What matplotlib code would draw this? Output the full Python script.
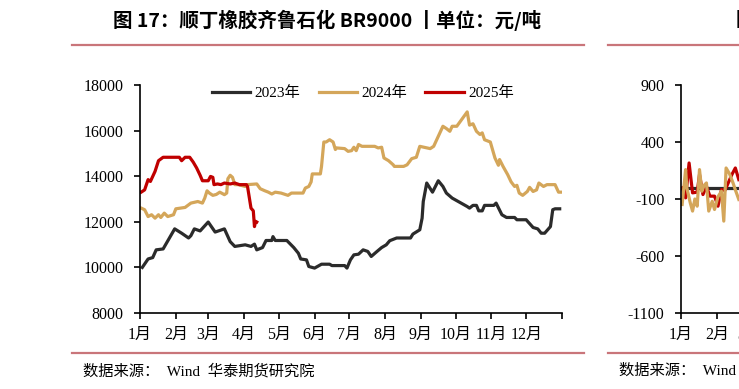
import matplotlib
matplotlib.use("Agg")
import matplotlib.pyplot as plt
from matplotlib.lines import Line2D

plt.rcParams['font.family'] = ['Liberation Serif', 'Noto Sans CJK SC', 'DejaVu Sans']
plt.rcParams['axes.unicode_minus'] = False

# day of year -> price (元/吨)
d2023 = [2, 7, 11, 14, 20, 30, 36, 42, 44, 47, 52, 59, 65, 73, 78, 82, 91, 96, 99, 101,
         106, 109, 114, 115, 117, 127, 133, 137, 139, 144, 146, 151, 157, 164, 166, 177,
         179, 182, 185, 189, 193, 197, 200, 205, 209, 213, 216, 222, 234, 236, 242, 244,
         245, 248, 253, 258, 262, 265, 270, 283, 285, 288, 291, 293, 296, 298, 306, 308,
         313, 317, 324, 326, 334, 340, 344, 347, 350, 355, 357, 359, 363]
v2023 = [10000, 10370, 10430, 10770, 10810, 11690, 11500, 11290, 11390, 11690, 11600,
         11990, 11550, 11690, 11130, 10920, 10990, 10920, 11020, 10770, 10870, 11180,
         11180, 11350, 11180, 11180, 10870, 10620, 10370, 10330, 10040, 9970, 10140,
         10140, 10080, 10080, 9970, 10330, 10550, 10580, 10770, 10700, 10480, 10700,
         10870, 10990, 11170, 11290, 11290, 11460, 11650, 12160, 12890, 13700, 13300,
         13800, 13550, 13260, 13040, 12670, 12600, 12720, 12720, 12480, 12480, 12720,
         12720, 12820, 12310, 12190, 12190, 12090, 12090, 11750, 11690, 11500, 11500,
         11790, 12530, 12570, 12570]

d2024 = [1, 4, 7, 10, 13, 16, 18, 21, 24, 29, 31, 39, 44, 50, 54, 56, 58, 60, 63, 66,
         69, 73, 75, 76, 78, 80, 82, 85, 91, 93, 101, 104, 108, 111, 114, 117, 122, 128,
         131, 141, 143, 146, 148, 149, 156, 157, 159, 161, 164, 167, 169, 170, 177, 180,
         183, 185, 187, 189, 192, 203, 206, 209, 211, 215, 219, 220, 228, 231, 235, 239,
         242, 251, 254, 262, 265, 268, 270, 274, 283, 285, 288, 291, 294, 296, 298, 303,
         307, 310, 311, 314, 318, 321, 324, 326, 328, 331, 335, 337, 340, 343, 345, 349,
         352, 359, 362, 365]
v2024 = [12600, 12530, 12230, 12310, 12160, 12310, 12190, 12380, 12230, 12310, 12570,
         12630, 12820, 12890, 12820, 13040, 13360, 13260, 13160, 13200, 13300, 13190,
         13260, 13890, 14040, 13950, 13630, 13630, 13550, 13630, 13660, 13450, 13360,
         13300, 13220, 13300, 13260, 13160, 13260, 13260, 13480, 13550, 13750, 14100,
         14100, 14430, 15500, 15500, 15600, 15500, 15170, 15240, 15210, 15090, 15120,
         15270, 15120, 15390, 15310, 15310, 15240, 15270, 14800, 14680, 14500, 14430,
         14430, 14500, 14770, 14830, 15310, 15210, 15310, 16190, 16090, 15970, 16190,
         16190, 16820, 16240, 16300, 15970, 15830, 15900, 15600, 15500, 14800, 14480,
         14730, 14430, 14070, 13750, 13550, 13600, 13260, 13160, 13330, 13510, 13330,
         13400, 13700, 13550, 13630, 13630, 13300, 13300]

d2025 = [1, 4, 7, 9, 11, 13, 16, 20, 34, 36, 39, 43, 46, 49, 52, 54, 59, 61, 63, 64,
         67, 70, 73, 78, 82, 86, 92, 93, 96, 98, 99, 100, 101]
v2025 = [13300, 13400, 13850, 13770, 13990, 14210, 14680, 14830, 14830, 14680, 14830,
         14830, 14620, 14360, 14040, 13800, 13800, 13990, 13950, 13630, 13660, 13630,
         13700, 13660, 13700, 13630, 13630, 13550, 12600, 12480, 11790, 12020, 11990]

# right (cut-off) panel: spread series
ds_red = [1, 4, 7, 10, 14, 16, 19, 22, 25, 29, 32, 35, 38, 44, 47, 50]
vs_red = [-2, -90, 216, -46, -40, 114, -61, 12, -75, -75, -163, -17, -25, 114, 172, 70]
ds_gold = [1, 4, 5, 8, 10, 12, 14, 16, 18, 20, 22, 24, 27, 29, 32, 35, 37, 39, 42, 45, 47, 50]
vs_gold = [-148, 158, 0, -133, -206, -100, -163, 158, -32, 20, 41, -206, -120, -192, -80,
           -32, -294, 172, 120, 41, -20, -104]
ds_black = [0, 60]
vs_black = [0, 0]

month_start = [0, 31, 59, 90, 120, 151, 181, 212, 243, 273, 304, 334, 365]
month_lab = ['1月', '2月', '3月', '4月', '5月', '6月', '7月', '8月', '9月', '10月', '11月', '12月', '']

c23 = '#2b2b2b'
c24 = '#d4a65a'
c25 = '#c00000'
rule = '#c9757a'

fig = plt.figure(figsize=(7.39, 3.89), dpi=100)

ax = fig.add_axes([140/739, 76/389, 422/739, 228/389])
ax.plot(d2023, v2023, color=c23, lw=2.3, label='2023年')
ax.plot(d2024, v2024, color=c24, lw=2.3, label='2024年')
ax.plot(d2025, v2025, color=c25, lw=2.3, label='2025年')
ax.set_xlim(0, 365)
ax.set_ylim(8000, 18000)
ax.set_yticks(range(8000, 18001, 2000))
ax.set_xticks(month_start)
ax.set_xticklabels(month_lab)

ax2 = fig.add_axes([681/739, 76/389, 422/739, 228/389])
ax2.plot(ds_black, vs_black, color=c23, lw=2.3)
ax2.plot(ds_red, vs_red, color=c25, lw=2.3)
ax2.plot(ds_gold, vs_gold, color=c24, lw=2.3)
ax2.set_xlim(0, 365)
ax2.set_ylim(-1100, 900)
ax2.set_yticks(range(-1100, 901, 500))
ax2.set_xticks(month_start[:3])
ax2.set_xticklabels(month_lab[:3])

for a in (ax, ax2):
    for s in ('top', 'right'):
        a.spines[s].set_visible(False)
    a.spines['left'].set_linewidth(1.2)
    a.spines['bottom'].set_linewidth(1.2)
    a.tick_params(direction='out', length=4, width=1.2, labelsize=11.5)
    a.tick_params(axis='y', pad=8)
    a.tick_params(axis='x', pad=6)

ax.legend(loc='center', bbox_to_anchor=(0.528, 0.965), ncol=3, frameon=False,
          fontsize=11, handlelength=2.5, handletextpad=0.3, columnspacing=1.2)

fig.text(113/739, 1 - 20/389, '图 17：顺丁橡胶齐鲁石化 BR9000 丨单位：元/吨',
         family=['Noto Sans CJK SC', 'DejaVu Sans'], weight='bold', fontsize=14,
         va='center', ha='left')
fig.text(736/739, 1 - 20/389, '图', family=['Noto Sans CJK SC'], weight='bold',
         fontsize=14, va='center', ha='left')

fig.add_artist(Line2D([72/739, 584/739], [1 - 45/389] * 2, color=rule, lw=1.6))
fig.add_artist(Line2D([608/739, 1.0], [1 - 45/389] * 2, color=rule, lw=1.6))
fig.add_artist(Line2D([72/739, 584/739], [1 - 353/389] * 2, color=rule, lw=1.6))
fig.add_artist(Line2D([608/739, 1.0], [1 - 353/389] * 2, color=rule, lw=1.6))

fig.text(83/739, 1 - 371/389, '数据来源：  Wind  华泰期货研究院', fontsize=11, va='center', ha='left')
fig.text(619/739, 1 - 371/389, '数据来源：  Wind', fontsize=11, va='center', ha='left')

fig.savefig('out.png', dpi=100)
